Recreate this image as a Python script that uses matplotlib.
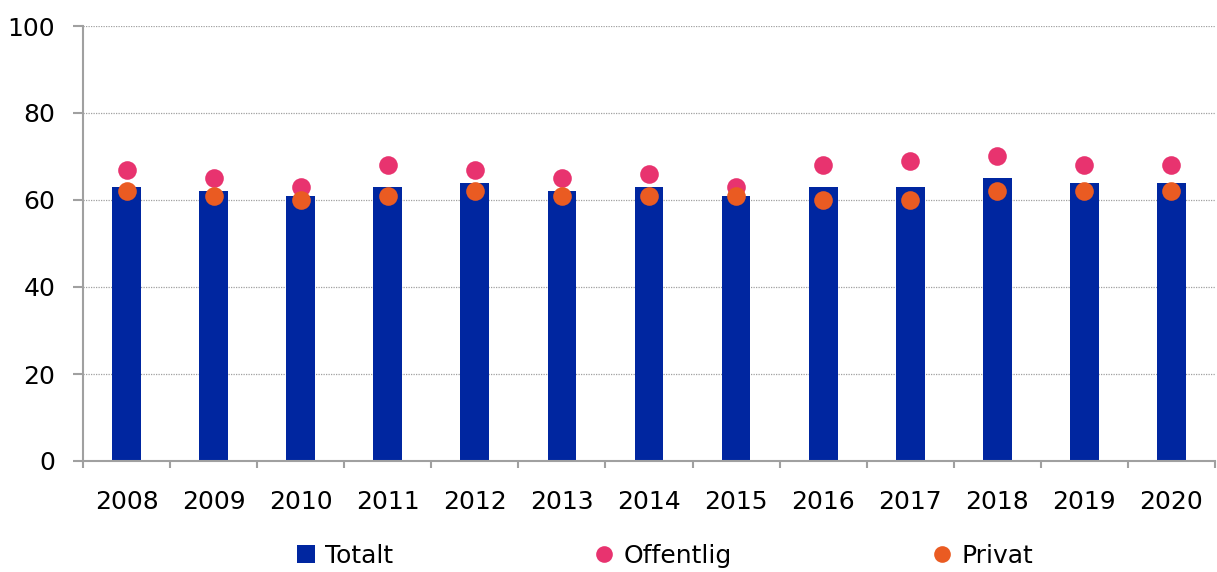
import matplotlib.pyplot as plt
import numpy as np
from matplotlib.lines import Line2D
from matplotlib.patches import Patch

# Data
years = ["2008", "2009", "2010", "2011", "2012", "2013", "2014",
         "2015", "2016", "2017", "2018", "2019", "2020"]
totalt = [63, 62, 61, 63, 64, 62, 63, 61, 63, 63, 65, 64, 64]
offentlig = [67, 65, 63, 68, 67, 65, 66, 63, 68, 69, 70, 68, 68]
privat = [62, 61, 60, 61, 62, 61, 61, 61, 60, 60, 62, 62, 62]

c_tot = '#0026A0'
c_off = '#E8336F'
c_priv = '#EA5B22'
grey = '#A0A0A0'

plt.rcParams['font.family'] = ['DejaVu Sans']

fig = plt.figure(figsize=(12.17, 5.72), dpi=100)
ax = fig.add_axes([83 / 1217, 1 - 461 / 572, 1132 / 1217, 435 / 572])

x = np.arange(len(years))
ax.bar(x, totalt, width=0.33, color=c_tot, zorder=2)
ax.scatter(x, offentlig, s=180, color=c_off, zorder=3, linewidths=0)
ax.scatter(x, privat, s=180, color=c_priv, zorder=4, linewidths=0)

ax.set_xlim(-0.5, len(years) - 0.5)
ax.set_ylim(0, 100)
ax.set_yticks(range(0, 101, 20))
ax.yaxis.grid(True, linestyle=(0, (1, 1)), color=grey, linewidth=0.9, zorder=0)

# x ticks: labels at centres, tick marks at boundaries
ax.set_xticks(x)
ax.set_xticklabels(years)
ax.set_xticks(np.arange(-0.5, len(years)), minor=True)
ax.tick_params(axis='x', which='major', length=0, pad=21, labelsize=18)
ax.tick_params(axis='x', which='minor', length=5, color=grey, width=1.5)
ax.tick_params(axis='y', length=7, color=grey, width=1.5, labelsize=18, pad=13)

for s in ['top', 'right']:
    ax.spines[s].set_visible(False)
for s in ['left', 'bottom']:
    ax.spines[s].set_color(grey)
    ax.spines[s].set_linewidth(1.5)

handles = [
    Patch(facecolor=c_tot, label='Totalt'),
    Line2D([], [], marker='o', linestyle='none', markersize=12,
           markerfacecolor=c_off, markeredgewidth=0, label='Offentlig'),
    Line2D([], [], marker='o', linestyle='none', markersize=12,
           markerfacecolor=c_priv, markeredgewidth=0, label='Privat'),
]
fig.legend(handles=handles, loc='lower center', bbox_to_anchor=(0.5465, -0.032),
           ncol=3, frameon=False, fontsize=18, columnspacing=8.05,
           handlelength=0.75, handletextpad=0.4, handleheight=0.75)

plt.savefig("out.png", dpi=100)
